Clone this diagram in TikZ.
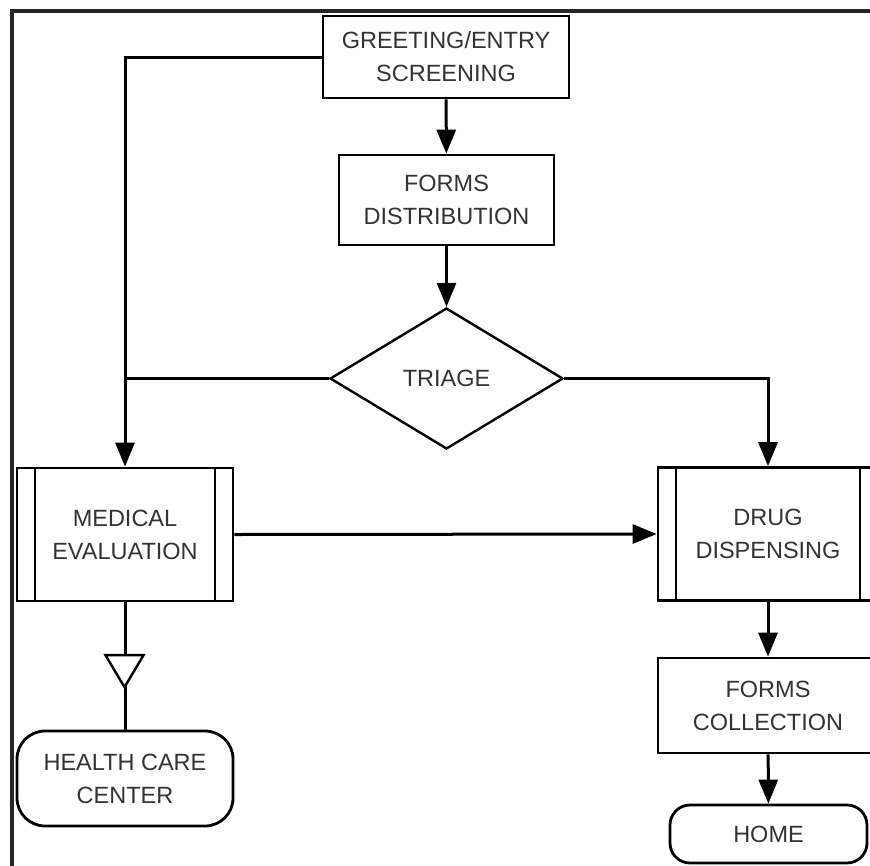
\documentclass[tikz,border=0pt]{standalone}
\usepackage{fontspec}
\setmainfont{Liberation Sans}
\usetikzlibrary{arrows.meta,shapes.geometric,shapes.misc}
\begin{document}
\begin{tikzpicture}[x=1pt,y=-1pt,
  every node/.style={font=\fontsize{23.5}{33}\selectfont, text=black!80, align=center, inner sep=0pt},
  box/.style={draw=black, line width=2.8pt, fill=white, rectangle},
  process/.style={box, path picture={
      \draw[line width=2.8pt] ([xshift=18pt]path picture bounding box.north west) -- ([xshift=18pt]path picture bounding box.south west);
      \draw[line width=2.8pt] ([xshift=-18pt]path picture bounding box.north east) -- ([xshift=-18pt]path picture bounding box.south east);}},
  decision/.style={draw=black, line width=2.4pt, fill=white, diamond},
  terminal/.style={draw=black, line width=2.8pt, fill=white, rectangle, rounded corners=#1},
  link/.style={line width=3pt, draw=black},
  flow/.style={link, -{Triangle[length=24pt,width=19pt]}},
]
\useasboundingbox (0,0) rectangle (870,865);
\clip (0,0) rectangle (870,865);

% outer frame
\draw[line width=3.2pt, draw=black!85] (12,11) rectangle (900,900);

% steps
\node[box, minimum width=246pt, minimum height=82pt] (greet) at (446,57) {GREETING/ENTRY\\SCREENING};
\node[box, minimum width=215pt, minimum height=90pt] (dist) at (446.5,200) {FORMS\\DISTRIBUTION};
\node[decision, minimum width=233pt, minimum height=141pt] (triage) at (446.5,378.5) {TRIAGE};
\node[process, minimum width=216pt, minimum height=133pt] (med) at (125,534.5) {MEDICAL\\EVALUATION};
\node[process, minimum width=220pt, minimum height=133pt] (drug) at (768,534) {DRUG\\DISPENSING};
\node[box, minimum width=220pt, minimum height=95pt] (coll) at (768,705.5) {FORMS\\COLLECTION};
\node[terminal=28pt, minimum width=216pt, minimum height=95pt] (hcc) at (125,778.5) {HEALTH CARE\\CENTER};
\node[terminal=20pt, minimum width=197pt, minimum height=58pt] (home) at (768.5,834) {HOME};

% connectors
\draw[flow] (greet) -- (dist);
\draw[flow] (dist) -- (triage);
\draw[flow] (greet.west) -| (med.north);
\draw[link] (triage.west) -- (med.north |- triage.west);
\draw[flow] (triage.east) -| (drug.north);
\draw[flow] (med.east) -- (drug.west);
\draw[flow] (drug) -- (coll);
\draw[flow] (coll) -- (home);
\draw[link] (med.south) -- (hcc.north);

% referral marker on the path to the health care center
\node[draw=black, line width=2.4pt, fill=white, isosceles triangle, shape border rotate=-90,
      isosceles triangle stretches, minimum width=38pt, minimum height=32pt] (refer) at (124.5,666) {};
\end{tikzpicture}
\end{document}
